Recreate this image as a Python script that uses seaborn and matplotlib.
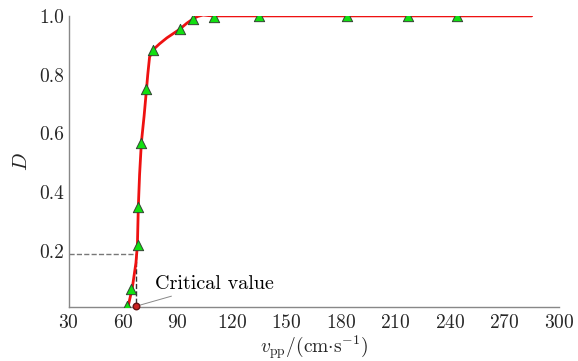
import numpy as np
import matplotlib
matplotlib.use('Agg')
import matplotlib.pyplot as plt
import pandas as pd
import seaborn as sns

# Dati
v_pts = [61.8, 64.2, 68.2, 68.2, 70.0, 72.8, 76.5, 91.2, 98.5, 110.0, 135.0, 183.5, 217.0, 244.0]
d_pts = [0.012, 0.071, 0.22, 0.35, 0.568, 0.751, 0.885, 0.955, 0.989, 0.997, 0.998, 0.999, 0.999, 0.998]

# Curva rossa
v_curve = [62.7, 65.0, 67.0, 67.8, 68.3, 69.0, 70.0, 71.5, 72.8, 73.5, 74.5, 76.5, 80.0, 84.0, 91.2, 95.0, 98.5, 101.0, 104.0, 107.0, 110.0, 150.0, 285.0]
d_curve = [0.012, 0.075, 0.16, 0.22, 0.35, 0.46, 0.57, 0.66, 0.75, 0.80, 0.86, 0.885, 0.905, 0.925, 0.955, 0.975, 0.99, 0.998, 1.003, 1.001, 1.0, 1.0, 1.0]

v_crit = 67.0
d_crit = 0.19

sns.set_style('white')
plt.rcParams['font.family'] = ['cmr10', 'DejaVu Serif']
plt.rcParams['mathtext.fontset'] = 'cm'
plt.rcParams['axes.unicode_minus'] = False
plt.rcParams['axes.formatter.use_mathtext'] = True

fig = plt.figure(figsize=(5.78, 3.61), dpi=100)
ax = fig.add_axes([0.119, 0.150, 0.848, 0.806])

df_curve = pd.DataFrame({'v': v_curve, 'D': d_curve})
df_pts = pd.DataFrame({'v': v_pts, 'D': d_pts})

sns.lineplot(data=df_curve, x='v', y='D', color='#ee1111', lw=2.0, ax=ax, sort=False, zorder=3)
sns.scatterplot(data=df_pts, x='v', y='D', marker='^', s=55, color='#11e011',
                edgecolor='#334433', linewidth=0.7, ax=ax, zorder=4)

# linee tratteggiate del valore critico
ax.plot([30, v_crit], [d_crit, d_crit], ls='--', color='#777777', lw=1.0, zorder=2)
ax.plot([v_crit, v_crit], [d_crit, 0.01], ls='--', color='#333333', lw=1.0, zorder=2)
ax.scatter([v_crit], [0.012], s=22, color='#cc2222', edgecolor='#661111', zorder=5, clip_on=False)
ax.annotate('Critical value', xy=(v_crit, 0.012), xytext=(77.5, 0.088),
            fontsize=14.5, color='black', va='center', ha='left',
            arrowprops=dict(arrowstyle='-', color='#888888', lw=0.7, shrinkA=0, shrinkB=2))

ax.set_xlim(30, 300)
ax.set_ylim(0.01, 1.0)
ax.set_xticks(np.arange(30, 301, 30))
ax.set_yticks([0.2, 0.4, 0.6, 0.8, 1.0])
ax.set_yticklabels(['0.2', '0.4', '0.6', '0.8', '1.0'])
ax.set_yticks([0.1, 0.3, 0.5, 0.7, 0.9], minor=True)
ax.tick_params(axis='both', which='both', direction='in', length=5, color='#888888',
               labelsize=14, pad=3)
ax.tick_params(axis='x', pad=5)

for side in ['top', 'right']:
    ax.spines[side].set_visible(False)
for side in ['left', 'bottom']:
    ax.spines[side].set_color('#888888')
    ax.spines[side].set_linewidth(1.0)

ax.set_xlabel(r'$v_{\rm pp}$/(cm$\cdot$s$^{-1}$)', fontsize=14, labelpad=1)
ax.set_ylabel(r'$D$', fontsize=15, labelpad=6)

fig.savefig('out.png', dpi=100)
